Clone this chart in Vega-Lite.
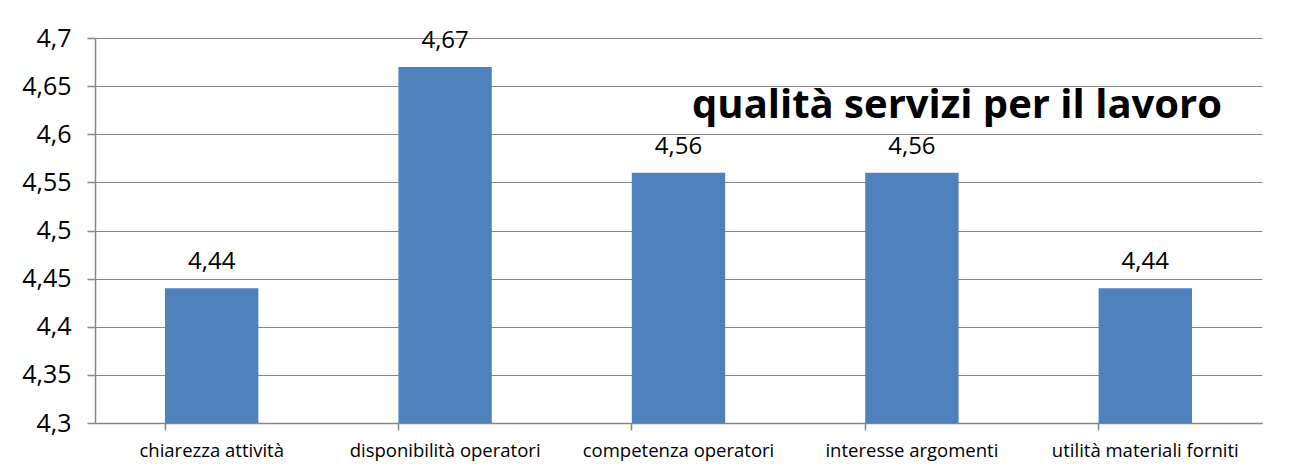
{
  "$schema": "https://vega.github.io/schema/vega-lite/v6.json",
  "autosize": "none",
  "width": 1167,
  "height": 385,
  "padding": {"left": 95, "top": 38, "right": 29, "bottom": 51},
  "background": "white",
  "config": {
    "locale": {"number": {"decimal": ",", "thousands": ".", "grouping": [3], "currency": ["€", ""]}},
    "view": {"stroke": null},
    "font": "Open Sans"
  },
  "title": {
    "text": "qualità servizi per il lavoro",
    "orient": "top",
    "anchor": "end",
    "offset": 0,
    "baseline": "alphabetic",
    "dy": 132,
    "dx": -40,
    "fontSize": 40,
    "fontWeight": "bold",
    "font": "Open Sans",
    "color": "#000000"
  },
  "data": {
    "values": [
      {"voce": "chiarezza attività", "valore": 4.44},
      {"voce": "disponibilità operatori", "valore": 4.67},
      {"voce": "competenza operatori", "valore": 4.56},
      {"voce": "interesse argomenti", "valore": 4.56},
      {"voce": "utilità materiali forniti", "valore": 4.44}
    ]
  },
  "resolve": {"axis": {"x": "independent"}},
  "layer": [
    {
      "mark": {"type": "bar", "color": "#4F81BD", "clip": true},
      "encoding": {
        "x": {
          "field": "voce", "type": "nominal", "sort": null,
          "scale": {"paddingInner": 0.6, "paddingOuter": 0.3},
          "axis": {
            "title": null, "orient": "bottom", "labelAngle": 0, "ticks": false,
            "domain": true, "domainColor": "#868686", "domainWidth": 1.5,
            "labelFontSize": 18.5, "labelColor": "#000000", "labelBaseline": "alphabetic",
            "labelPadding": 33, "labelLimit": 0, "grid": false
          }
        },
        "y": {
          "field": "valore", "type": "quantitative",
          "scale": {"domain": [4.3, 4.7], "zero": false, "nice": false},
          "axis": {
            "title": null, "values": [4.3, 4.35, 4.4, 4.45, 4.5, 4.55, 4.6, 4.65, 4.7],
            "format": ".2~f", "labelFontSize": 25, "labelColor": "#000000",
            "tickSize": 8, "tickColor": "#868686", "tickWidth": 1.5,
            "labelPadding": 16, "domainColor": "#868686", "domainWidth": 1.5,
            "grid": true, "gridColor": "#868686", "gridWidth": 1.2
          }
        }
      }
    },
    {
      "mark": {"type": "text", "baseline": "alphabetic", "dy": -19, "fontSize": 24, "color": "#000000"},
      "encoding": {
        "x": {
          "field": "voce", "type": "nominal", "sort": null,
          "axis": {
            "title": null, "orient": "bottom", "labels": false, "ticks": true,
            "bandPosition": 0, "tickSize": 7, "tickColor": "#868686", "tickWidth": 1.5,
            "domain": false, "grid": false
          }
        },
        "y": {"field": "valore", "type": "quantitative"},
        "text": {"field": "valore", "type": "quantitative", "format": ".2f"}
      }
    }
  ]
}
